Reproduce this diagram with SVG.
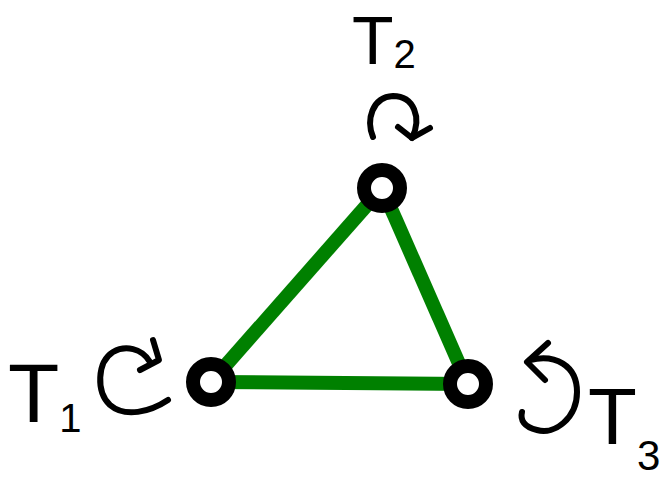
<svg xmlns="http://www.w3.org/2000/svg" width="666" height="482" viewBox="0 0 666 482">
<style>
.edge{stroke:#008000;stroke-width:14;stroke-linecap:butt;fill:none}
.node{fill:#fff;stroke:#000;stroke-width:14}
.rot{fill:none;stroke:#000;stroke-width:6;stroke-linecap:round;stroke-linejoin:round}
.lbl{font-family:"Liberation Sans",Arial,sans-serif;fill:#000}
</style>
<rect width="666" height="482" fill="#fff"/>
<g id="connectors">
<line class="edge" x1="382" y1="188" x2="211" y2="382"/>
<line class="edge" x1="382" y1="188" x2="468" y2="384"/>
<line class="edge" x1="211" y1="382" x2="468" y2="384"/>
</g>
<g id="node-top">
<circle class="node" cx="382" cy="188" r="18"/>
<path class="rot" d="M373,137 C366,120 372,97 393,96 C414,96 422,118 412,138"/>
<path class="rot" d="M398,127 L412,138 L430,128"/>
<text class="lbl" x="352" y="64" font-size="68">T<tspan font-size="40" dy="4">2</tspan></text>
</g>
<g id="node-left">
<circle class="node" cx="211" cy="382" r="18"/>
<path class="rot" d="M150,362 C142,348 125,345 113,352 C97,362 96,392 110,405 C125,418 150,412 168,400"/>
<path class="rot" d="M153,340 L159,360 L140,370"/>
<text class="lbl" x="8" y="422" font-size="84">T<tspan font-size="40" dy="10">1</tspan></text>
</g>
<g id="node-right">
<circle class="node" cx="468" cy="384" r="18"/>
<path class="rot" d="M530,360 C555,354 577,365 577,392 C577,418 555,435 537,430 C524,427 520,420 522,412"/>
<path class="rot" d="M548,343 L527,362 L545,380"/>
<text class="lbl" x="588" y="444" font-size="80">T<tspan font-size="42" dy="26">3</tspan></text>
</g>
</svg>
